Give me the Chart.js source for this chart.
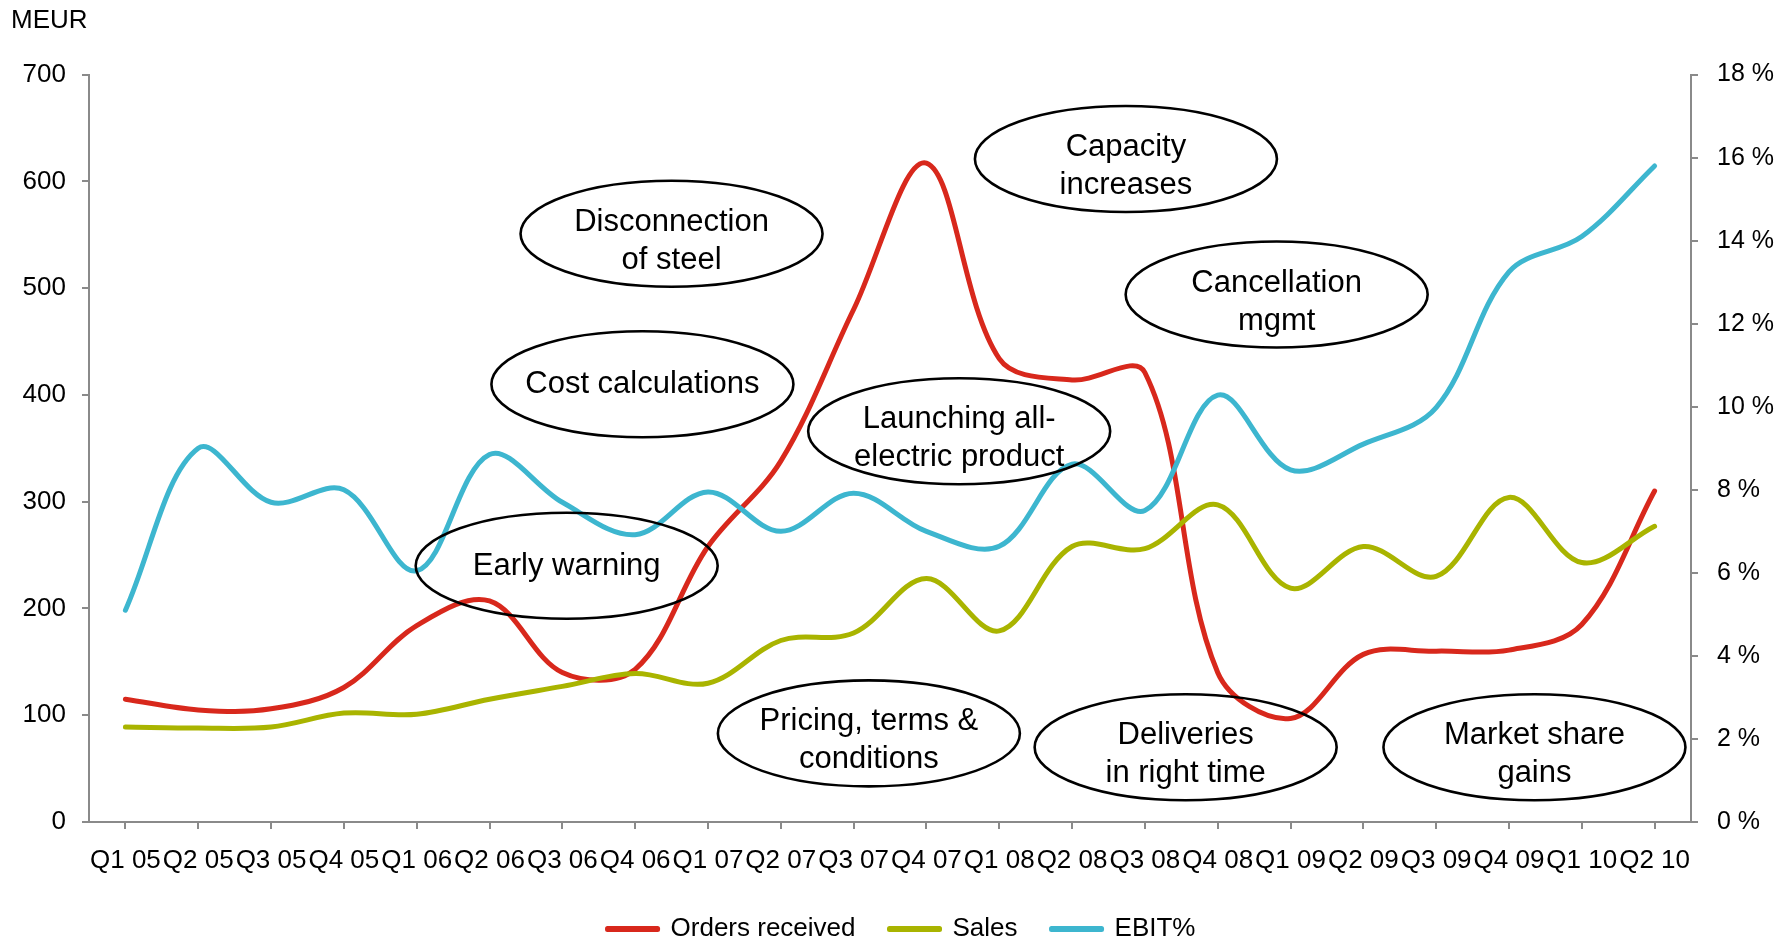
<!DOCTYPE html>
<html>
<head>
<meta charset="utf-8">
<script src="https://cdn.jsdelivr.net/npm/chart.js@4/dist/chart.umd.min.js"></script>
<style>
  html, body { margin: 0; padding: 0; background: #ffffff; }
  #wrap { width: 1792px; height: 940px; position: relative; }
</style>
</head>
<body>
<div id="wrap"><canvas id="chart" width="1792" height="940"></canvas></div>
<script>
// Quarter labels along the x axis
const quarters = [
  'Q1 05', 'Q2 05', 'Q3 05', 'Q4 05',
  'Q1 06', 'Q2 06', 'Q3 06', 'Q4 06',
  'Q1 07', 'Q2 07', 'Q3 07', 'Q4 07',
  'Q1 08', 'Q2 08', 'Q3 08', 'Q4 08',
  'Q1 09', 'Q2 09', 'Q3 09', 'Q4 09',
  'Q1 10', 'Q2 10'
];

// Orders received, MEUR
const ordersReceived = [115, 105, 106, 126, 184, 207, 140, 143, 258, 338, 480, 617,
                        434, 414, 421, 140, 97, 157, 160, 161, 185, 310];

// Sales, MEUR
const sales = [89, 88, 89, 102, 101, 115, 127, 139, 130, 170, 177, 228,
               179, 258, 256, 297, 219, 258, 230, 304, 243, 277];

// EBIT margin, %
const ebitPct = [5.1, 9.0, 7.7, 8.0, 6.05, 8.85, 7.7, 6.92, 7.95, 7.0, 7.92, 7.0,
                 6.64, 8.62, 7.5, 10.28, 8.48, 9.1, 9.98, 13.25, 14.1, 15.8];

// Management themes shown as callouts
const calloutTexts = [
  ['Disconnection', 'of steel'],
  ['Cost calculations'],
  ['Early warning'],
  ['Launching all-', 'electric product'],
  ['Capacity', 'increases'],
  ['Cancellation', 'mgmt'],
  ['Pricing, terms &', 'conditions'],
  ['Deliveries', 'in right time'],
  ['Market share', 'gains']
];
// Callout anchors: category position and MEUR level
const calloutCategory = [7.5, 7.1, 6.06, 11.45, 13.74, 15.81, 10.21, 14.56, 19.35];
const calloutMeur = [551, 410, 240, 366, 621, 494, 83, 70, 70];

const FONT = "'Liberation Sans', Arial, Helvetica, sans-serif";
const AXIS_GREY = '#8a8a8a';

const calloutPlugin = {
  id: 'callouts',
  afterDatasetsDraw(chart) {
    const ctx = chart.ctx;
    const xs = chart.scales.x, ys = chart.scales.y;
    ctx.save();
    ctx.lineWidth = 2.6;
    ctx.strokeStyle = '#000';
    ctx.fillStyle = '#000';
    ctx.font = '31px ' + FONT;
    ctx.textAlign = 'center';
    ctx.textBaseline = 'alphabetic';
    calloutTexts.forEach((lines, i) => {
      const cx = xs.getPixelForValue(calloutCategory[i]);
      const cy = ys.getPixelForValue(calloutMeur[i]);
      ctx.beginPath();
      ctx.ellipse(cx, cy, 151, 53, 0, 0, Math.PI * 2);
      ctx.stroke();
      if (lines.length === 1) {
        ctx.fillText(lines[0], cx, cy + 9);
      } else {
        ctx.fillText(lines[0], cx, cy - 3);
        ctx.fillText(lines[1], cx, cy + 35);
      }
    });
    ctx.restore();
  }
};

Chart.defaults.font.family = FONT;
Chart.defaults.font.size = 26;
Chart.defaults.color = '#000';

new Chart(document.getElementById('chart'), {
  type: 'line',
  data: {
    labels: quarters,
    datasets: [
      {
        label: 'Orders received',
        data: ordersReceived,
        yAxisID: 'y',
        borderColor: '#d8281c',
        backgroundColor: '#d8281c',
        order: 2
      },
      {
        label: 'Sales',
        data: sales,
        yAxisID: 'y',
        borderColor: '#a9b400',
        backgroundColor: '#a9b400',
        order: 1
      },
      {
        label: 'EBIT%',
        data: ebitPct,
        yAxisID: 'y1',
        borderColor: '#3db6cf',
        backgroundColor: '#3db6cf',
        order: 0
      }
    ]
  },
  options: {
    responsive: false,
    animation: false,
    devicePixelRatio: 1,
    layout: { padding: { left: 11, right: 0, top: 0, bottom: -12 } },
    elements: {
      line: { borderWidth: 5, tension: 0.35, borderCapStyle: 'round', borderJoinStyle: 'round', fill: false },
      point: { radius: 0, hoverRadius: 0 }
    },
    plugins: {
      title: {
        display: true,
        text: 'MEUR',
        align: 'start',
        color: '#000',
        font: { size: 26, weight: 'normal', family: FONT },
        padding: { top: 5, bottom: 38.4 }
      },
      legend: {
        position: 'bottom',
        labels: {
          boxWidth: 50,
          boxHeight: 1,
          padding: 34,
          color: '#000',
          font: { size: 26, family: FONT },
          sort: (a, b) => a.datasetIndex - b.datasetIndex
        }
      },
      tooltip: { enabled: false }
    },
    scales: {
      x: {
        type: 'category',
        offset: true,
        grid: { offset: false, drawOnChartArea: false, drawTicks: true, tickLength: 7, color: AXIS_GREY, lineWidth: 2 },
        border: { color: AXIS_GREY, width: 2 },
        ticks: { autoSkip: false, maxRotation: 0, minRotation: 0, padding: 16, color: '#000', font: { size: 26 } },
        afterFit(scale) { scale.height = 60; }
      },
      y: {
        position: 'left',
        min: 0,
        max: 700,
        ticks: { stepSize: 100, padding: 16, color: '#000', font: { size: 26 } },
        grid: { drawOnChartArea: false, drawTicks: true, tickLength: 7, color: AXIS_GREY, lineWidth: 2 },
        border: { color: AXIS_GREY, width: 2 },
        afterFit(scale) { scale.width = 78; }
      },
      y1: {
        position: 'right',
        min: 0,
        max: 18,
        ticks: { stepSize: 2, padding: 19, color: '#000', font: { size: 25 }, callback: v => v + ' %' },
        grid: { drawOnChartArea: false, drawTicks: true, tickLength: 7, color: AXIS_GREY, lineWidth: 2 },
        border: { color: AXIS_GREY, width: 2 },
        afterFit(scale) { scale.width = 101; }
      }
    }
  },
  plugins: [calloutPlugin]
});
</script>
</body>
</html>
